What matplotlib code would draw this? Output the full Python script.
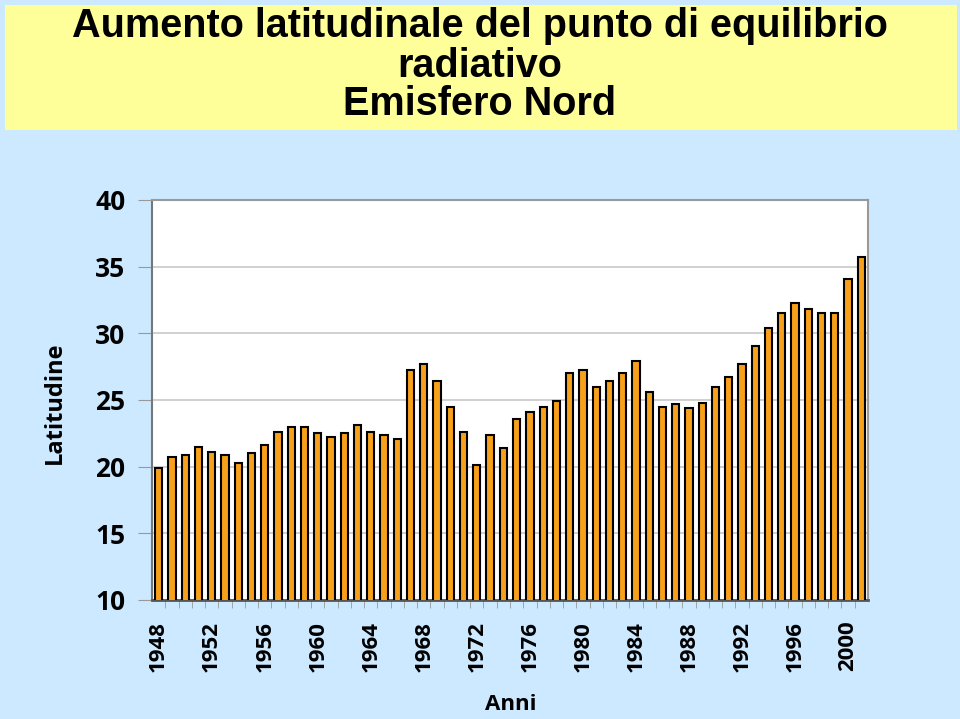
import matplotlib
matplotlib.use("Agg")
import matplotlib.pyplot as plt
from matplotlib.patches import Rectangle

# Data: northern-hemisphere latitude of radiative equilibrium point
years = list(range(1948, 2002))
latitude = [
    19.9, 20.7, 20.85, 21.5, 21.1, 20.85, 20.3, 21.0, 21.65, 22.6,
    23.0, 23.0, 22.5, 22.2, 22.5, 23.15, 22.6, 22.35, 22.1, 27.25,
    27.7, 26.45, 24.5, 22.6, 20.1, 22.35, 21.4, 23.6, 24.1, 24.5,
    24.9, 27.0, 27.25, 26.0, 26.45, 27.0, 27.95, 25.6, 24.5, 24.7,
    24.4, 24.8, 26.0, 26.7, 27.7, 29.05, 30.4, 31.5, 32.3, 31.8,
    31.5, 31.5, 34.1, 35.75,
]
tick_years = list(range(1948, 2001, 4))
y_ticks = [10, 15, 20, 25, 30, 35, 40]

bg = "#cce9ff"
lbl_font = "Open Sans"
fig = plt.figure(figsize=(9.6, 7.19), dpi=100, facecolor=bg)

# Title banner
fig.patches.append(Rectangle((5 / 960, 1 - 130 / 719), 952 / 960, 125 / 719,
                             transform=fig.transFigure, facecolor="#ffff99",
                             edgecolor="none", zorder=0))
title_lines = ["Aumento latitudinale del punto di equilibrio",
               "radiativo", "Emisfero Nord"]
for line, ypix in zip(title_lines, [26, 66, 104]):
    fig.text(0.5, 1 - ypix / 719, line, ha="center", va="center",
             fontsize=28.5, fontweight="bold", family="Liberation Sans")

ax = fig.add_axes([152 / 960, 1 - 600 / 719, 716 / 960, 400 / 719])
ax.set_facecolor("white")
ax.bar(years, latitude, width=0.55, color="#f7a01c", edgecolor="black",
       linewidth=1.5, zorder=3)
ax.set_xlim(1947.5, 2001.5)
ax.set_ylim(10, 40)
ax.set_yticks(y_ticks)
ax.yaxis.grid(True, color="#c8c8c8", linewidth=1.2, zorder=0)
ax.set_xticks(tick_years)
ax.set_xticks([y + 0.5 for y in years[:-1]], minor=True)
ax.set_xticklabels([str(y) for y in tick_years], rotation=90,
                   fontsize=16, fontweight="bold", family=lbl_font)
ax.tick_params(axis="x", which="major", length=0, pad=15)
ax.tick_params(axis="x", which="minor", length=6, color="#999999",
               direction="out")
ax.tick_params(axis="y", length=10, color="#999999", pad=9,
               labelsize=19)
for lab in ax.get_yticklabels():
    lab.set_fontweight("bold")
    lab.set_family(lbl_font)
for side in ["top", "right"]:
    ax.spines[side].set_color("#999999")
    ax.spines[side].set_linewidth(1.5)
ax.spines["left"].set_color("#777777")
ax.spines["left"].set_linewidth(1.5)
ax.spines["bottom"].set_color("#555555")
ax.spines["bottom"].set_linewidth(2)

fig.text(55 / 960, 1 - 403 / 719, "Latitudine", rotation=90, ha="center",
         va="center", fontsize=17, fontweight="bold", family=lbl_font)
fig.text(511 / 960, 1 - 705 / 719, "Anni", ha="center", va="center",
         fontsize=16, fontweight="bold", family=lbl_font)

fig.savefig("out.png", dpi=100, facecolor=bg)
